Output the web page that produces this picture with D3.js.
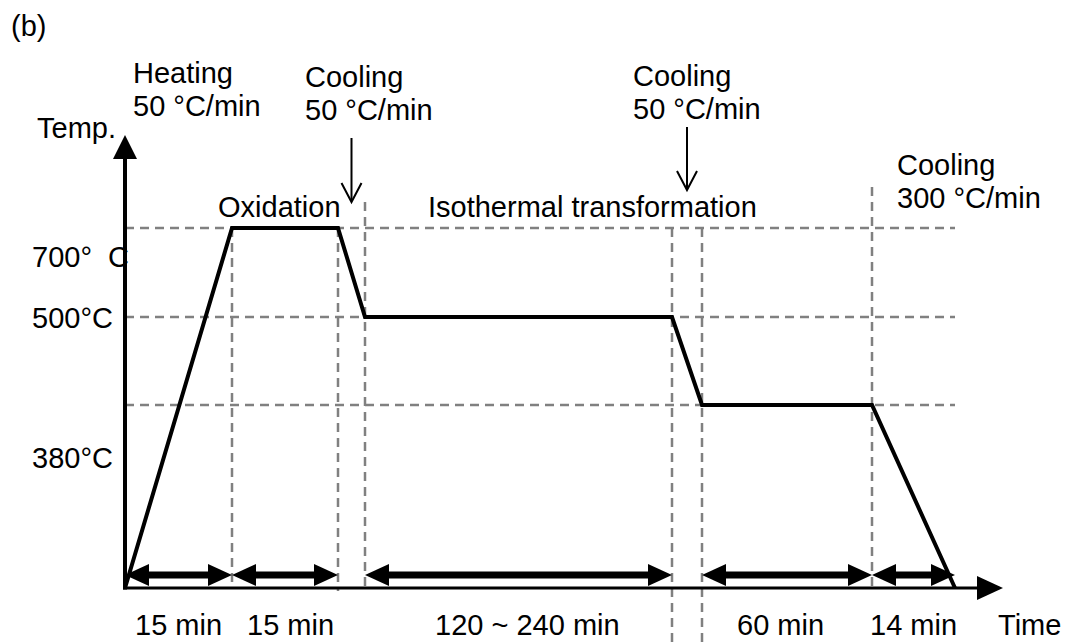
<!DOCTYPE html>
<html>
<head>
<meta charset="utf-8">
<script src="https://cdn.jsdelivr.net/npm/d3@7"></script>
<style>
  html, body { margin: 0; padding: 0; background: #fff; }
  svg { display: block; }
  text { font-family: "Liberation Sans", Arial, sans-serif; font-size: 29px; fill: #000; white-space: pre; }
</style>
</head>
<body>
<svg id="chart" width="1065" height="644"></svg>
<script>
// Heat-treatment schedule: stage boundaries (cumulative minutes, schematic) and temperatures (°C)
const stageTimes = [0, 15, 30, 34, 154, 156.4, 216.4, 230.4];
const levelTemps = [25, 380, 500, 700];
const profileTimes = [0, 15, 30, 34, 154, 156.4, 216.4, 230.4];
const profileTemps = [25, 700, 700, 500, 500, 380, 380, 25];

// Duration arrows under the curve: [start, end, label]
const spanStarts = [0, 15, 34, 156.4, 216.4];
const spanEnds = [15, 30, 154, 216.4, 230.4];
const spanLabels = ["15 min", "15 min", "120 ~ 240 min", "60 min", "14 min"];

// Temperature labels on the vertical axis
const tempLabels = ["700°  C", "500°C", "380°C"];

// Process annotations
const stageNames = ["Oxidation", "Isothermal transformation"];
const rateTitles = ["Heating", "Cooling", "Cooling", "Cooling"];
const rateValues = ["50 °C/min", "50 °C/min", "50 °C/min", "300 °C/min"];

const svg = d3.select("#chart");

// Schematic (piecewise) scales: not to scale, one range stop per stage boundary
const x = d3.scaleLinear().domain(stageTimes).range([125, 232, 338, 365, 672, 702, 872, 955]);
const y = d3.scaleLinear().domain(levelTemps).range([588, 405, 317, 228]);

const grey = "#808080";
const dash = "9,6";
const guideW = 2.5;

// Horizontal guide lines at the three holding temperatures
svg.append("g").selectAll("line")
  .data([700, 500, 380])
  .join("line")
  .attr("x1", x(0)).attr("x2", x(230.4))
  .attr("y1", d => y(d)).attr("y2", d => y(d))
  .attr("stroke", grey).attr("stroke-width", guideW).attr("stroke-dasharray", dash);

// Vertical guide lines at the stage boundaries
const vGuides = [
  { t: 15, top: y(700), bottom: 588 },
  { t: 30, top: y(700), bottom: 591 },
  { t: 34, top: 202, bottom: 588 },
  { t: 154, top: y(700), bottom: 644 },
  { t: 156.4, top: y(700), bottom: 644 },
  { t: 216.4, top: 187, bottom: 590 }
];
svg.append("g").selectAll("line")
  .data(vGuides)
  .join("line")
  .attr("x1", d => x(d.t)).attr("x2", d => x(d.t))
  .attr("y1", d => d.top).attr("y2", d => d.bottom)
  .attr("stroke", grey).attr("stroke-width", guideW).attr("stroke-dasharray", dash);

// Axes with solid arrowheads
const x0 = x(0), yBase = y(25);
svg.append("line").attr("x1", x0).attr("x2", x0).attr("y1", yBase + 1.5).attr("y2", 158)
  .attr("stroke", "#000").attr("stroke-width", 4);
svg.append("path").attr("d", `M${x0},135 L${x0 - 12},159 L${x0 + 12},159 Z`).attr("fill", "#000");
svg.append("line").attr("x1", x0 - 2).attr("x2", 978).attr("y1", yBase).attr("y2", yBase)
  .attr("stroke", "#000").attr("stroke-width", 3);
svg.append("path").attr("d", `M1003,${yBase} L977,${yBase - 12} L977,${yBase + 12} Z`).attr("fill", "#000");

// Temperature profile
const profile = profileTimes.map((t, i) => [t, profileTemps[i]]);
svg.append("path")
  .datum(profile)
  .attr("d", d3.line().x(d => x(d[0])).y(d => y(d[1])))
  .attr("fill", "none").attr("stroke", "#000").attr("stroke-width", 4)
  .attr("stroke-linejoin", "miter");

// Double-headed duration arrows
const arrowY = 575, headLen = 24, headHalf = 11;
const spans = spanStarts.map((s, i) => ({ s, e: spanEnds[i], label: spanLabels[i] }));
const gSpan = svg.append("g");
spans.forEach(d => {
  const a = x(d.s), b = x(d.e);
  gSpan.append("line").attr("x1", a + headLen - 2).attr("x2", b - headLen + 2)
    .attr("y1", arrowY).attr("y2", arrowY).attr("stroke", "#000").attr("stroke-width", 7);
  gSpan.append("path").attr("d", `M${a},${arrowY} L${a + headLen},${arrowY - headHalf} L${a + headLen},${arrowY + headHalf} Z`).attr("fill", "#000");
  gSpan.append("path").attr("d", `M${b},${arrowY} L${b - headLen},${arrowY - headHalf} L${b - headLen},${arrowY + headHalf} Z`).attr("fill", "#000");
});

// Duration labels
const labelX = [135, 247, 435, 737, 870];
svg.append("g").selectAll("text")
  .data(spans)
  .join("text")
  .attr("x", (d, i) => labelX[i]).attr("y", 635)
  .text(d => d.label);
svg.append("text").attr("x", 998).attr("y", 635).text("Time");

// Axis title and temperature labels
svg.append("text").attr("x", 37).attr("y", 138).text("Temp.");
const tempLabelY = [y(700) + 39, y(500) + 11, y(380) + 63];
svg.append("g").selectAll("text")
  .data(tempLabels)
  .join("text")
  .attr("x", 32).attr("y", (d, i) => tempLabelY[i])
  .text(d => d);

// Panel tag
svg.append("text").attr("x", 11).attr("y", 36).text("(b)");

// Stage names
svg.append("text").attr("x", 218).attr("y", 217).text(stageNames[0]);
svg.append("text").attr("x", 428).attr("y", 217).text(stageNames[1]);

// Rate annotations
const ratePos = [
  { x: 133, y: 83 },
  { x: 305, y: 87 },
  { x: 633, y: 86 },
  { x: 897, y: 175 }
];
const gRate = svg.append("g");
rateTitles.forEach((t, i) => {
  gRate.append("text").attr("x", ratePos[i].x).attr("y", ratePos[i].y).text(t);
  gRate.append("text").attr("x", ratePos[i].x).attr("y", ratePos[i].y + 33).text(rateValues[i]);
});

// Thin pointer arrows for the two 50 °C/min cooling steps (mid-segment)
const pointers = [
  { t: (30 + 34) / 2, top: 138, tip: 202 },
  { t: (154 + 156.4) / 2, top: 127, tip: 190 }
];
pointers.forEach(p => {
  const px = x(p.t);
  svg.append("line").attr("x1", px).attr("x2", px).attr("y1", p.top).attr("y2", p.tip - 1)
    .attr("stroke", "#000").attr("stroke-width", 2);
  svg.append("path").attr("d", `M${px - 10},${p.tip - 19} L${px},${p.tip} L${px + 10},${p.tip - 19}`)
    .attr("fill", "none").attr("stroke", "#000").attr("stroke-width", 2);
});
</script>
</body>
</html>
